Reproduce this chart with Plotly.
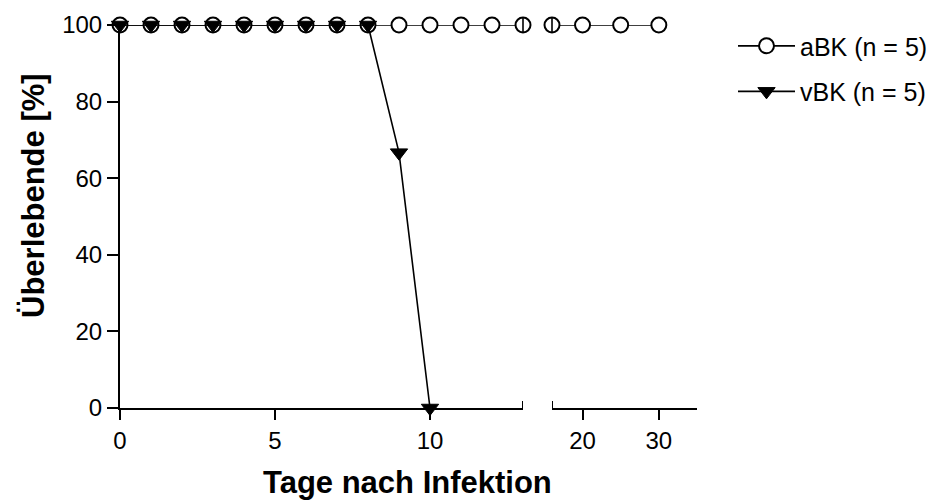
import plotly.graph_objects as go

# ---- data ----
days_left = list(range(0, 14))          # 0..13 (left axis segment)
aBK_left = [100] * 14
days_right = [16, 20, 25, 30]           # right axis segment
aBK_right = [100, 100, 100, 100]
vBK_days = list(range(0, 11))
vBK_vals = [100, 100, 100, 100, 100, 100, 100, 100, 100, 66.67, 0]
censor_left_days = [13]
censor_right_days = [16]
y_ticks = [0, 20, 40, 60, 80, 100]
x_left_ticks = [0, 5, 10]
x_right_ticks = [20, 30]

FONT = "Arial, 'Liberation Sans', sans-serif"
BLACK = "#000000"

fig = go.Figure()

circ_marker = dict(symbol="circle", size=15, color="white", line=dict(color=BLACK, width=2))
tri_marker = dict(symbol="triangle-down", size=15, color=BLACK, line=dict(color=BLACK, width=1))
line_style = dict(color=BLACK, width=1.6)

fig.add_trace(go.Scatter(x=days_left, y=aBK_left, mode="lines+markers", name="aBK (n = 5)",
                         marker=circ_marker, line=line_style, xaxis="x", yaxis="y",
                         cliponaxis=False, legendgroup="a"))
fig.add_trace(go.Scatter(x=days_right, y=aBK_right, mode="lines+markers", name="aBK (n = 5)",
                         marker=circ_marker, line=line_style, xaxis="x2", yaxis="y",
                         cliponaxis=False, legendgroup="a", showlegend=False))
# censor ticks
fig.add_trace(go.Scatter(x=censor_left_days, y=[100], mode="markers", showlegend=False,
                         marker=dict(symbol="line-ns", size=11, line=dict(color=BLACK, width=1.6)),
                         xaxis="x", yaxis="y", cliponaxis=False, legendgroup="a"))
fig.add_trace(go.Scatter(x=censor_right_days, y=[100], mode="markers", showlegend=False,
                         marker=dict(symbol="line-ns", size=11, line=dict(color=BLACK, width=1.6)),
                         xaxis="x2", yaxis="y", cliponaxis=False, legendgroup="a"))
fig.add_trace(go.Scatter(x=vBK_days, y=vBK_vals, mode="lines+markers", name="vBK (n = 5)",
                         marker=tri_marker, line=line_style, xaxis="x", yaxis="y",
                         cliponaxis=False, legendgroup="b"))

axis_common = dict(showline=True, linecolor=BLACK, linewidth=2, ticks="outside",
                   tickcolor=BLACK, tickwidth=2, showgrid=False, zeroline=False,
                   tickfont=dict(family=FONT, size=24, color=BLACK))

W_PLOT = 577.0
fig.update_layout(
    width=939, height=504,
    margin=dict(l=120, r=242, t=25, b=96, pad=0, autoexpand=False),
    paper_bgcolor="white", plot_bgcolor="white",
    font=dict(family=FONT, color=BLACK),
    xaxis=dict(domain=[0, 403 / W_PLOT], range=[0, 13], tickvals=x_left_ticks,
               ticklen=10, anchor="y", **axis_common),
    xaxis2=dict(domain=[432 / W_PLOT, 1], range=[16, 35], tickvals=x_right_ticks,
                ticklen=10, anchor="y", **axis_common),
    yaxis=dict(range=[0, 100], tickvals=y_ticks, ticklen=11, anchor="x", **axis_common),
    legend=dict(x=(733 - 120) / W_PLOT, y=1.005, xanchor="left", yanchor="top",
                xref="paper", yref="paper",
                font=dict(family=FONT, size=25, color=BLACK), tracegroupgap=10,
                bgcolor="rgba(0,0,0,0)", borderwidth=0, itemwidth=57),
    showlegend=True,
)

# axis break caps
for xr, xv in (("x", 13), ("x2", 16)):
    fig.add_shape(type="line", xref=xr, yref="y", x0=xv, x1=xv, ysizemode="pixel",
                  yanchor=0, y0=-7, y1=7, line=dict(color=BLACK, width=2))

fig.add_annotation(text="<b>Tage nach Infektion</b>", xref="paper", yref="paper",
                   x=(407 - 120) / W_PLOT, y=(408 - 482) / 383.0, xanchor="center",
                   yanchor="middle", showarrow=False,
                   font=dict(family=FONT, size=31, color=BLACK))
fig.add_annotation(text="<b>Überlebende [%]</b>", xref="paper", yref="paper",
                   x=(33 - 120) / W_PLOT, y=(408 - 196) / 383.0, xanchor="center",
                   yanchor="middle", textangle=-90, showarrow=False,
                   font=dict(family=FONT, size=31, color=BLACK))

fig.write_html("out.html")
